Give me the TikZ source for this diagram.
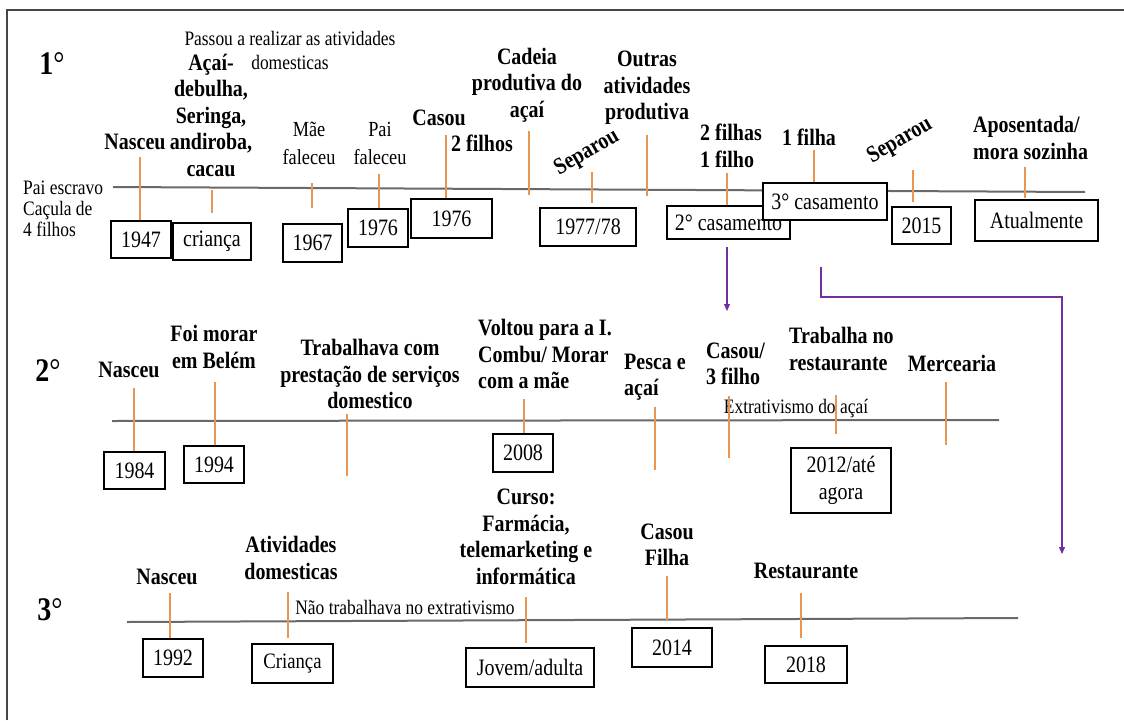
\documentclass[tikz,border=0pt]{standalone}
\usepackage{fontspec}
\setmainfont{Liberation Serif}[FakeStretch=0.85]
\usetikzlibrary{arrows.meta}
\definecolor{linec}{RGB}{105,105,105}
\definecolor{tickc}{RGB}{232,150,82}
\definecolor{purp}{RGB}{112,48,160}
\definecolor{framec}{RGB}{70,70,70}
\newcommand\mybox[6]{\node[box, minimum width=#4pt, minimum height=#5pt] (#1) at (#2,#3) {#6};}
\newcommand\mytick[4]{\coordinate (#1a) at (#2,#3); \coordinate (#1b) at (#2,#4); \draw[tick] (#1a) -- (#1b);}
\begin{document}
\begin{tikzpicture}[x=1pt,y=-1pt,
 lab/.style={font=\bfseries\fontsize{23.5}{26.5}\selectfont, inner sep=0pt, align=center},
 labl/.style={lab, align=left},
 reg/.style={font=\fontsize{20.5}{24}\selectfont, inner sep=0pt, align=center},
 box/.style={draw=black, line width=1.1pt, fill=white, inner sep=0pt, font=\fontsize{23.5}{27}\selectfont, align=center},
 tick/.style={draw=tickc, line width=2pt},
 tline/.style={draw=linec, line width=2pt},
 conn/.style={draw=purp, line width=1.2pt, -{Triangle[length=7pt,width=6pt]}},
 big/.style={font=\bfseries\fontsize{33}{33}\selectfont, inner sep=0pt}]
\useasboundingbox (0,0) rectangle (1124,720);
\fill[white] (0,0) rectangle (1124,720);
% frame
\coordinate (fbl) at (7,720); \coordinate (ftl) at (7,10); \coordinate (ftr) at (1124,10);
\draw[framec, line width=1.5pt] (fbl) -- (ftl) -- (ftr);

% timelines
\coordinate (l1s) at (113,187); \coordinate (l1e) at (1085,192);
\coordinate (l2s) at (112,421); \coordinate (l2e) at (999,420);
\coordinate (l3s) at (127,622); \coordinate (l3e) at (1018,618);
\draw[tline] (l1s) -- (l1e);
\draw[tline] (l2s) -- (l2e);
\draw[tline] (l3s) -- (l3e);

% ===== Row 1 =====
\node[big] (n1) at (52,64) {1\textmd{°}};
\node[reg, font=\fontsize{20.5}{21}\selectfont, align=left, anchor=west] (pai) at (23,209) {Pai escravo\\Caçula de\\4 filhos};
\node[reg] (passou) at (290,50) {Passou a realizar as atividades\\domesticas};
\node[lab] (acai) at (211,115) {Açaí-\\debulha,\\Seringa,\\andiroba,\\cacau};
\node[lab] (nasc1) at (135,142) {Nasceu};
\node[reg, font=\fontsize{21.5}{28}\selectfont] (mae) at (309,143) {Mãe\\faleceu};
\node[reg, font=\fontsize{21.5}{28}\selectfont] (paif) at (380,143) {Pai\\faleceu};
\node[lab] (casou1) at (439,118) {Casou};
\node[lab] (filhos2) at (482,143) {2 filhos};
\node[lab] (cadeia) at (527,85) {Cadeia\\produtiva do\\açaí};
\node[lab, rotate=30] (sep1) at (587,153) {Separou};
\node[lab] (outras) at (647,88) {Outras\\atividades\\produtiva};
\node[labl, anchor=west] (filhas) at (700,146) {2 filhas\\1 filho};
\node[lab] (filha1) at (809,137) {1 filha};
\node[lab, rotate=30] (sep2) at (900,141) {Separou};
\node[labl, anchor=west] (apos) at (973,138) {Aposentada/\\mora sozinha};

\mytick{t11}{140}{157}{221}
\mytick{t12}{212}{190}{213}
\mytick{t13}{312}{183}{208}
\mytick{t14}{379}{174}{208}
\mytick{t15}{446}{135}{199}
\mytick{t16}{529}{131}{195}
\mytick{t17}{592}{172}{203}
\mytick{t18}{647}{135}{196}
\mytick{t19}{727}{173}{205}
\mytick{t110}{814}{150}{182}
\mytick{t111}{913}{170}{202}
\mytick{t112}{1025}{167}{198}

\mybox{b1947}{141}{239.5}{60}{37}{1947}
\mybox{bcri}{212}{241.5}{78}{37}{criança}
\mybox{b1967}{312.5}{243}{59}{38}{1967}
\mybox{b1976a}{378}{228}{60}{38}{1976}
\mybox{b1976b}{451.5}{218.5}{81}{39}{1976}
\mybox{b7778}{588}{227}{96}{38}{1977/78}
\mybox{bcas2}{728.5}{222.5}{123}{33}{2° casamento}
\mybox{bcas3}{825}{201.5}{124}{37}{3° casamento}
\mybox{b2015}{921.5}{225.5}{59}{37}{2015}
\mybox{batu}{1036.5}{220.5}{123}{41}{Atualmente}

% purple connectors
\coordinate (a1s) at (727,247); \coordinate (a1e) at (727,311);
\draw[conn] (a1s) -- (a1e);
\coordinate (a2s) at (821,267); \coordinate (a2m) at (821,297); \coordinate (a2e) at (1062,554);
\draw[conn] (a2s) -- (a2m) -| (a2e);

% ===== Row 2 =====
\node[big] (n2) at (48,371) {2\textmd{°}};
\node[lab] (nasc2) at (129,370) {Nasceu};
\node[lab] (foi) at (214,347) {Foi morar\\em Belém};
\node[lab] (trab) at (370,374) {Trabalhava com\\prestação de serviços\\domestico};
\node[labl, anchor=west] (volt) at (478,354) {Voltou para a I.\\Combu/ Morar\\com a mãe};
\node[labl, anchor=west] (pesca) at (624,377) {Pesca e\\açaí};
\node[labl, anchor=west] (casou2) at (706,364) {Casou/\\3 filho};
\node[labl, anchor=west] (trabr) at (789,349) {Trabalha no\\restaurante};
\node[lab] (merc) at (952,363) {Mercearia};
\node[reg] (extr) at (796,409) {Extrativismo do açaí};

\mytick{t21}{134}{388}{452}
\mytick{t22}{215}{382}{446}
\mytick{t23}{347}{414}{476}
\mytick{t24}{524}{399}{434}
\mytick{t25}{655}{407}{470}
\mytick{t26}{729}{396}{458}
\mytick{t27}{836}{395}{434}
\mytick{t28}{946}{382}{445}

\mybox{b1984}{134.5}{470.5}{61}{37}{1984}
\mybox{b1994}{214}{464.5}{60}{37}{1994}
\mybox{b2008}{523}{453}{60}{38}{2008}
\mybox{b2012}{841}{480.5}{100}{65}{2012/até\\agora}

% ===== Row 3 =====
\node[big] (n3) at (50,610) {3\textmd{°}};
\node[lab] (nasc3) at (167,577) {Nasceu};
\node[lab] (ativ) at (291,558) {Atividades\\domesticas};
\node[reg] (naotr) at (405,607) {Não trabalhava no extrativismo};
\node[lab] (curso) at (526,537) {Curso:\\Farmácia,\\telemarketing e\\informática};
\node[lab] (casou3) at (667,545) {Casou\\Filha};
\node[lab] (rest) at (806,571) {Restaurante};

\mytick{t31}{170}{593}{638}
\mytick{t32}{288}{592}{638}
\mytick{t33}{526}{597}{643}
\mytick{t34}{667}{576}{620}
\mytick{t35}{801}{593}{638}

\mybox{b1992}{173}{658}{60}{38}{1992}
\node[box, minimum width=81pt, minimum height=39pt, font=\fontsize{22}{26}\selectfont] (bcri3) at (292.5,663.5) {Criança};
\mybox{bjov}{530}{667.5}{128}{39}{Jovem/adulta}
\mybox{b2014}{672}{647.5}{80}{39}{2014}
\mybox{b2018}{806}{664.5}{82}{37}{2018}
\end{tikzpicture}
\end{document}
